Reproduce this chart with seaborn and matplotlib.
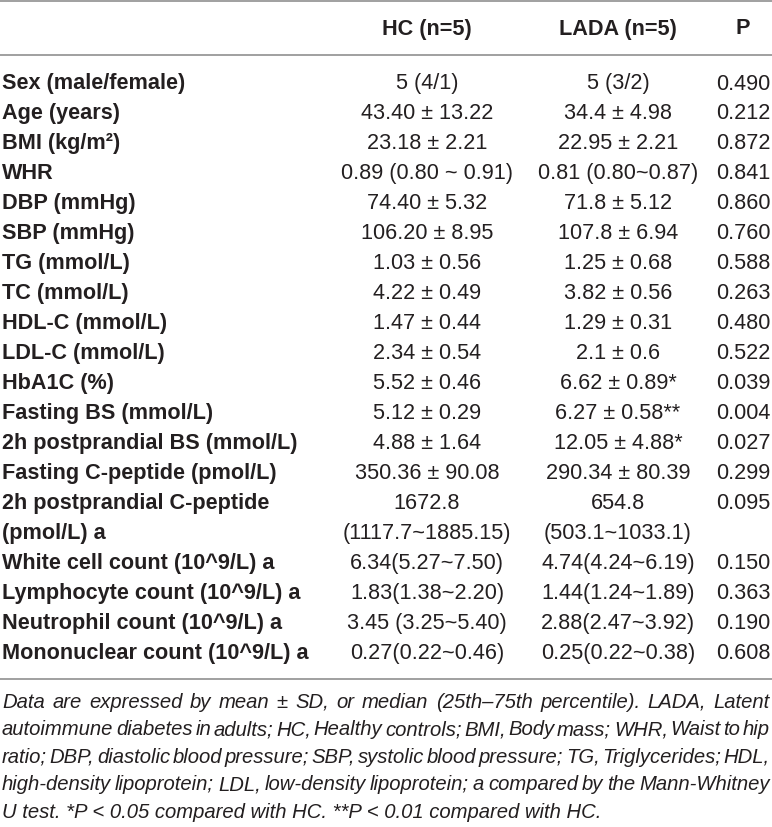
import matplotlib
matplotlib.use("Agg")
import matplotlib.pyplot as plt
import seaborn as sns

W, H = 772, 827

# table content
headers = ["HC (n=5)", "LADA (n=5)", "P"]
labels = ["Sex (male/female)", "Age (years)", "BMI (kg/m²)", "WHR", "DBP (mmHg)",
          "SBP (mmHg)", "TG (mmol/L)", "TC (mmol/L)", "HDL-C (mmol/L)", "LDL-C (mmol/L)",
          "HbA1C (%)", "Fasting BS (mmol/L)", "2h postprandial BS (mmol/L)",
          "Fasting C-peptide (pmol/L)", "2h postprandial C-peptide", "(pmol/L) a",
          "White cell count (10^9/L) a", "Lymphocyte count (10^9/L) a",
          "Neutrophil count (10^9/L) a", "Mononuclear count (10^9/L) a"]
hc = ["5 (4/1)", "43.40 ± 13.22", "23.18 ± 2.21", "0.89 (0.80 ~ 0.91)", "74.40 ± 5.32",
      "106.20 ± 8.95", "1.03 ± 0.56", "4.22 ± 0.49", "1.47 ± 0.44", "2.34 ± 0.54",
      "5.52 ± 0.46", "5.12 ± 0.29", "4.88 ± 1.64", "350.36 ± 90.08", "1672.8",
      "(1117.7~1885.15)", "6.34(5.27~7.50)", "1.83(1.38~2.20)", "3.45 (3.25~5.40)",
      "0.27(0.22~0.46)"]
lada = ["5 (3/2)", "34.4 ± 4.98", "22.95 ± 2.21", "0.81 (0.80~0.87)", "71.8 ± 5.12",
        "107.8 ± 6.94", "1.25 ± 0.68", "3.82 ± 0.56", "1.29 ± 0.31", "2.1 ± 0.6",
        "6.62 ± 0.89*", "6.27 ± 0.58**", "12.05 ± 4.88*", "290.34 ± 80.39", "654.8",
        "(503.1~1033.1)", "4.74(4.24~6.19)", "1.44(1.24~1.89)", "2.88(2.47~3.92)",
        "0.25(0.22~0.38)"]
pvals = ["0.490", "0.212", "0.872", "0.841", "0.860", "0.760", "0.588", "0.263", "0.480",
         "0.522", "0.039", "0.004", "0.027", "0.299", "0.095", "", "0.150", "0.363",
         "0.190", "0.608"]
note_lines = [
    "Data are expressed by mean ± SD, or median (25th–75th percentile). LADA, Latent",
    "autoimmune diabetes in adults; HC, Healthy controls; BMI, Body mass; WHR, Waist to hip",
    "ratio; DBP, diastolic blood pressure; SBP, systolic blood pressure; TG, Triglycerides; HDL,",
    "high-density lipoprotein; LDL, low-density lipoprotein; a compared by the Mann-Whitney",
    "U test. *P < 0.05 compared with HC. **P < 0.01 compared with HC.",
]

sns.set_theme(style="white")
plt.rcParams["font.family"] = ["Liberation Sans", "DejaVu Sans"]

fig = plt.figure(figsize=(W / 100, H / 100), dpi=100)
ax = fig.add_axes([0, 0, 1, 1])
ax.set_xlim(0, W)
ax.set_ylim(H, 0)
ax.axis("off")

fs = 15.6
note_fs = 14.6
col_x = [427, 618, 743]
row0, dy = 84, 29.95
ink = "#231f20"

# rules
for y in [1, 55, 679]:
    ax.axhline(y, color="#a0a0a0", lw=1.4)

for x, h in zip(col_x, headers):
    ax.text(x, 29, h, ha="center", va="center", fontsize=fs, fontweight="bold", color=ink)

for i, (lab, a, b, p) in enumerate(zip(labels, hc, lada, pvals)):
    y = row0 + i * dy
    ax.text(2, y, lab, ha="left", va="center", fontsize=fs, fontweight="bold", color=ink)
    for x, v in zip(col_x, [a, b, p]):
        ax.text(x, y, v, ha="center", va="center", fontsize=fs, color=ink)

# justified footnote
fig.canvas.draw()
rend = fig.canvas.get_renderer()
left, right = 2, 770
for k, line in enumerate(note_lines):
    y = 702 + k * 27.6
    if k == len(note_lines) - 1:
        ax.text(left, y, line, ha="left", va="center", fontsize=note_fs,
                style="italic", color=ink)
        continue
    words = line.split(" ")
    objs = [ax.text(0, y, w, ha="left", va="center", fontsize=note_fs,
                    style="italic", color=ink) for w in words]
    widths = [o.get_window_extent(rend).width for o in objs]
    gap = (right - left - sum(widths)) / (len(words) - 1)
    x = left
    for o, wd in zip(objs, widths):
        o.set_x(x)
        x += wd + gap

fig.savefig("out.png", dpi=100)
